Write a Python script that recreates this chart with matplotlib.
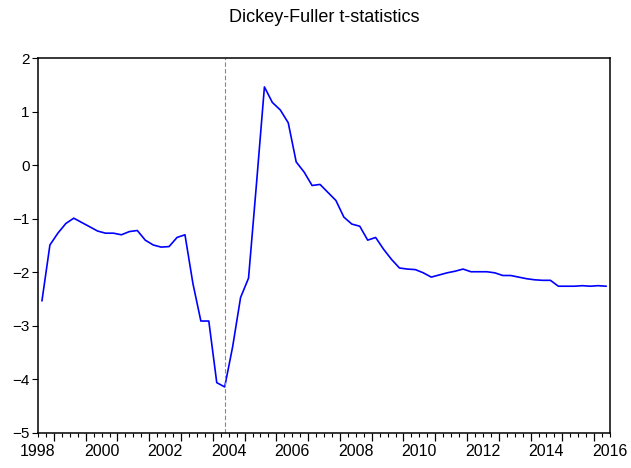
import matplotlib
matplotlib.use("Agg")
import matplotlib.pyplot as plt
import numpy as np

plt.rcParams['font.family'] = ['Liberation Sans', 'DejaVu Sans']

# quarterly Dickey-Fuller t-statistics, 1998Q3 .. 2016Q2
start_year = 1998.5
df_stat = [
    -2.53, -1.49, -1.27, -1.09, -0.99, -1.07, -1.15, -1.23,
    -1.27, -1.27, -1.30, -1.24, -1.22, -1.40, -1.49, -1.53,
    -1.52, -1.35, -1.30, -2.21, -2.91, -2.91, -4.06, -4.14,
    -3.39, -2.47, -2.11, -0.35, 1.46, 1.17, 1.03, 0.79,
    0.06, -0.13, -0.38, -0.36, -0.51, -0.66, -0.97, -1.10,
    -1.14, -1.40, -1.35, -1.57, -1.76, -1.92, -1.94, -1.95,
    -2.01, -2.09, -2.05, -2.01, -1.98, -1.94, -1.99, -1.99,
    -1.99, -2.01, -2.06, -2.06, -2.09, -2.12, -2.14, -2.15,
    -2.15, -2.26, -2.26, -2.26, -2.25, -2.26, -2.25, -2.26,
]
break_date = 2004.375  # 2004Q2
year_labels = [str(y) for y in range(1998, 2017, 2)]

t = start_year + 0.125 + 0.25 * np.arange(len(df_stat))

fig = plt.figure(figsize=(6.31, 4.68), dpi=100)
ax = fig.add_axes([38 / 631, 1 - 433 / 468, 572 / 631, 375 / 468])

ax.plot(t, df_stat, color='#0000ff', lw=1.2)
ax.axvline(break_date, color='#888888', lw=0.8, ls=(0, (4, 2)))

ax.set_xlim(1998.5, 2016.5)
ax.set_ylim(-5, 2)

for s in ax.spines.values():
    s.set_linewidth(1.1)

# y axis
ax.set_yticks(range(-5, 3))
ax.tick_params(axis='y', direction='out', length=4, width=0.8,
               labelsize=11, pad=2, right=False)

# x axis: year ticks (long), quarter ticks (short), labels mid-year
ax.set_xticks(np.arange(1999, 2017))
ax.set_xticklabels([])
ax.set_xticks(np.arange(1998.5, 2016.51, 0.25), minor=True)
ax.tick_params(axis='x', which='major', direction='out', length=5.5, width=0.9)
ax.tick_params(axis='x', which='minor', direction='out', length=3, width=0.8)

sec = ax.secondary_xaxis('bottom')
sec.set_xticks([int(y) + 0.5 for y in year_labels], year_labels)
sec.tick_params(length=0, labelsize=11.5, pad=8)
sec.spines['bottom'].set_visible(False)

fig.text(324 / 631, 1 - 18 / 468, 'Dickey-Fuller t-statistics', ha='center',
         va='center', fontsize=13)

fig.savefig('out.png', dpi=100)
